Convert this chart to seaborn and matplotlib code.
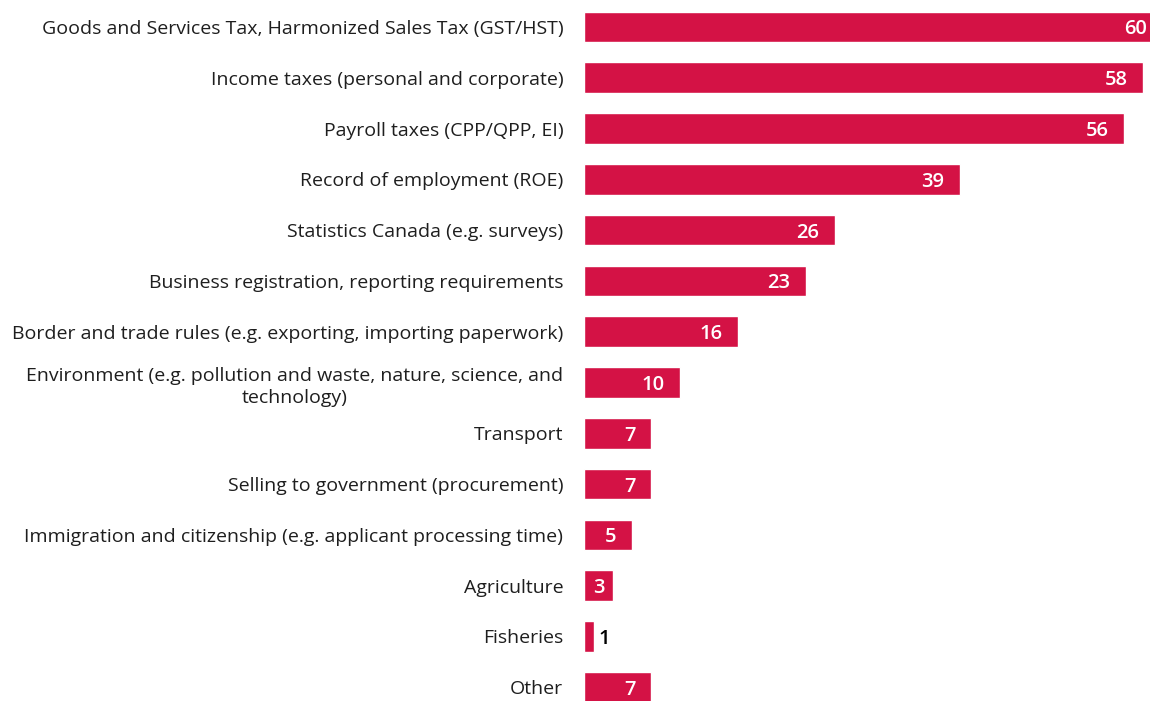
import matplotlib
matplotlib.use("Agg")
import matplotlib.pyplot as plt
import seaborn as sns
import pandas as pd

categories = [
    "Goods and Services Tax, Harmonized Sales Tax (GST/HST)",
    "Income taxes (personal and corporate)",
    "Payroll taxes (CPP/QPP, EI)",
    "Record of employment (ROE)",
    "Statistics Canada (e.g. surveys)",
    "Business registration, reporting requirements",
    "Border and trade rules (e.g. exporting, importing paperwork)",
    "Environment (e.g. pollution and waste, nature, science, and\ntechnology)",
    "Transport",
    "Selling to government (procurement)",
    "Immigration and citizenship (e.g. applicant processing time)",
    "Agriculture",
    "Fisheries",
    "Other",
]
values = [60, 58, 56, 39, 26, 23, 16, 10, 7, 7, 5, 3, 1, 7]

BAR_COLOR = "#D41245"

sns.set_theme(style="white")
plt.rcParams["font.family"] = ["Open Sans", "DejaVu Sans"]

df = pd.DataFrame({"category": categories, "value": values})

fig = plt.figure(figsize=(11.5, 7.01), dpi=100)
ax = fig.add_axes([584 / 1150, 0, 566 / 1150, 1])

sns.barplot(data=df, x="value", y="category", orient="h", color=BAR_COLOR,
            saturation=1, width=0.6, ax=ax)

ax.set_xlim(0, 58.7)
ax.set_ylim(13.27, -0.53)

# value labels: inside the bar end in white, outside in black when the bar is too short
for i, v in enumerate(values):
    if v >= 3:
        ax.text(max(v - 1.6, 2.1), i, str(v), ha="right", va="center_baseline",
                color="white", fontsize=14.5, fontweight="semibold")
    else:
        ax.text(v + 0.45, i, str(v), ha="left", va="center_baseline",
                color="black", fontsize=14.5, fontweight="semibold")

ax.set_xlabel("")
ax.set_ylabel("")
ax.set_xticks([])
ax.tick_params(axis="y", length=0, pad=15)
for lbl in ax.get_yticklabels():
    lbl.set_fontsize(14)
    lbl.set_color("#1e1e1e")
    lbl.set_multialignment("center")
    lbl.set_linespacing(1.3)
for s in ax.spines.values():
    s.set_visible(False)

fig.savefig("out.png", dpi=100)
